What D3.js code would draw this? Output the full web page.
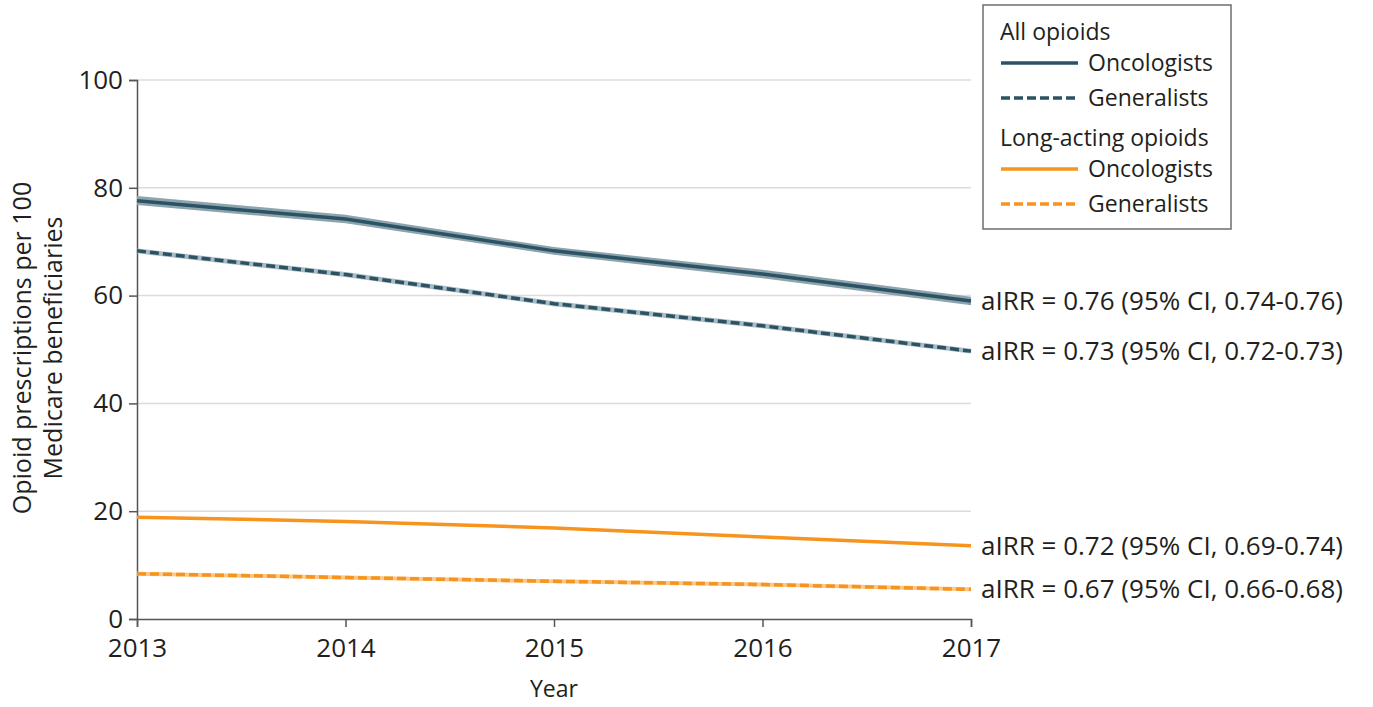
<!DOCTYPE html>
<html>
<head>
<meta charset="utf-8">
<script src="https://cdn.jsdelivr.net/npm/d3@7"></script>
<style>
  body { margin: 0; background: #fff; }
  text { font-family: "Open Sans", sans-serif; fill: #231f20; }
</style>
</head>
<body>
<div id="chart"></div>
<script>
var years = [2013, 2014, 2015, 2016, 2017];
var allOnc = [77.6, 74.2, 68.3, 64.0, 59.0];
var allOncLo = [76.8, 73.4, 67.6, 63.2, 58.2];
var allOncHi = [78.5, 75.0, 69.0, 64.8, 59.8];
var allGen = [68.3, 63.9, 58.5, 54.4, 49.7];
var laOnc = [18.9, 18.1, 16.9, 15.2, 13.6];
var laGen = [8.4, 7.7, 7.0, 6.4, 5.5];
var yTicks = [0, 20, 40, 60, 80, 100];
var labels = [
  "aIRR = 0.76 (95% CI, 0.74-0.76)",
  "aIRR = 0.73 (95% CI, 0.72-0.73)",
  "aIRR = 0.72 (95% CI, 0.69-0.74)",
  "aIRR = 0.67 (95% CI, 0.66-0.68)"
];

function init() {
  var w = 1373, h = 707;
  var left = 137, right = 971, top = 80, bottom = 619;
  var navy = "#2c5364", orange = "#f7941d";
  var fs = "23px", fsBig = "26px";

  var svg = d3.select("#chart").append("svg")
    .attr("width", w).attr("height", h);

  var x = d3.scaleLinear().domain([2013, 2017]).range([left, right]);
  var y = d3.scaleLinear().domain([0, 100]).range([bottom, top]);

  // grid
  svg.selectAll("line.grid")
    .data(yTicks.filter(function(d) { return d > 0; }))
    .enter().append("line")
    .attr("x1", left).attr("x2", right)
    .attr("y1", function(d) { return y(d); })
    .attr("y2", function(d) { return y(d); })
    .attr("stroke", "#dcdcdc").attr("stroke-width", 1.5);

  // axes
  var yAxis = d3.axisLeft(y).tickValues(yTicks).tickSize(8).tickPadding(6);
  var xAxis = d3.axisBottom(x).tickValues(years).tickSize(8).tickPadding(4)
    .tickFormat(d3.format("d"));

  var gy = svg.append("g").attr("transform", "translate(" + left + ",0)").call(yAxis);
  var gx = svg.append("g").attr("transform", "translate(0," + bottom + ")").call(xAxis);
  [gx, gy].forEach(function(g) {
    g.select(".domain").attr("stroke", "#555").attr("stroke-width", 1.5);
    g.selectAll(".tick line").attr("stroke", "#555").attr("stroke-width", 1.5);
    g.selectAll(".tick text").style("font-size", fsBig)
      .style("font-family", "'Open Sans', sans-serif").attr("fill", "#231f20");
  });
  gx.selectAll(".tick text").attr("y", 38).attr("dy", 0);
  gy.selectAll(".tick text").attr("dy", "0.32em");

  // titles
  svg.append("text").attr("x", (left + right) / 2).attr("y", 697)
    .attr("text-anchor", "middle").style("font-size", fs).text("Year");
  var yt = svg.append("text")
    .attr("transform", "translate(31," + 348 + ") rotate(-90)")
    .attr("text-anchor", "middle").style("font-size", "25px");
  yt.append("tspan").attr("x", 0).attr("dy", 0).text("Opioid prescriptions per 100");
  yt.append("tspan").attr("x", 0).attr("dy", "1.22em").text("Medicare beneficiaries");

  var line = d3.line()
    .x(function(d, i) { return x(years[i]); })
    .y(function(d) { return y(d); });

  // CI band for oncologists (all)
  var area = d3.area()
    .x(function(d, i) { return x(years[i]); })
    .y0(function(d, i) { return y(allOncLo[i]); })
    .y1(function(d, i) { return y(allOncHi[i]); });
  svg.append("path").datum(allOnc).attr("d", area).attr("fill", "#8da4ae");

  // halo for dashed generalists
  svg.append("path").datum(allGen).attr("d", line)
    .attr("fill", "none").attr("stroke", "#a9bcc4").attr("stroke-width", 5);
  svg.append("path").datum(laGen).attr("d", line)
    .attr("fill", "none").attr("stroke", "#fbc98d").attr("stroke-width", 4);

  var series = [
    { data: allOnc, color: navy, dash: null },
    { data: allGen, color: navy, dash: "9,4" },
    { data: laOnc, color: orange, dash: null },
    { data: laGen, color: orange, dash: "9,4" }
  ];
  series.forEach(function(s) {
    svg.append("path").datum(s.data).attr("d", line)
      .attr("fill", "none").attr("stroke", s.color)
      .attr("stroke-width", 3.5)
      .attr("stroke-dasharray", s.dash);
  });

  // end labels
  series.forEach(function(s, i) {
    svg.append("text")
      .attr("x", right + 10)
      .attr("y", y(s.data[s.data.length - 1]))
      .attr("dy", "0.35em")
      .style("font-size", fsBig)
      .text(labels[i]);
  });

  // legend
  var lg = svg.append("g");
  lg.append("rect").attr("x", 983).attr("y", 5).attr("width", 248).attr("height", 224)
    .attr("fill", "#fff").attr("stroke", "#6d6d6d").attr("stroke-width", 1.5);
  lg.append("text").attr("x", 1000).attr("y", 40).style("font-size", fs).text("All opioids");
  lg.append("text").attr("x", 1000).attr("y", 146).style("font-size", fs).text("Long-acting opioids");
  var items = [
    { yy: 63, color: navy, dash: null, name: "Oncologists" },
    { yy: 98, color: navy, dash: "9,4", name: "Generalists" },
    { yy: 169, color: orange, dash: null, name: "Oncologists" },
    { yy: 204, color: orange, dash: "9,4", name: "Generalists" }
  ];
  items.forEach(function(it) {
    lg.append("line").attr("x1", 1001).attr("x2", 1078)
      .attr("y1", it.yy).attr("y2", it.yy)
      .attr("stroke", it.color).attr("stroke-width", 3.5)
      .attr("stroke-dasharray", it.dash);
    lg.append("text").attr("x", 1088).attr("y", it.yy).attr("dy", "0.35em")
      .style("font-size", fs).text(it.name);
  });
}

window.onload = init;
</script>
</body>
</html>
